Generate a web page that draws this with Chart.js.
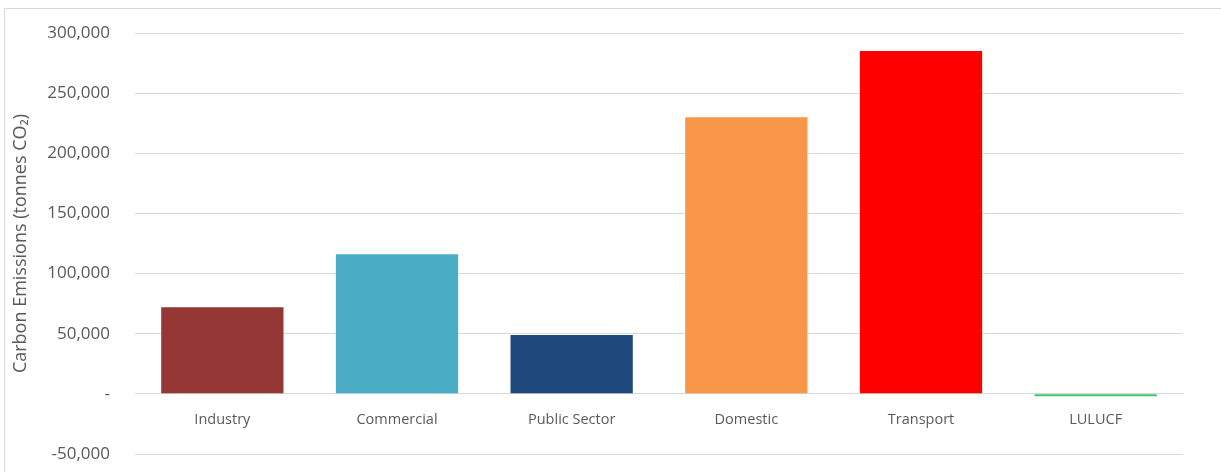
<!DOCTYPE html>
<html>
<head>
<meta charset="utf-8">
<script src="https://cdn.jsdelivr.net/npm/chart.js@4.4.1/dist/chart.umd.min.js"></script>
<style>
  body { margin: 0; background: #fff; overflow: hidden; }
  #frame {
    position: absolute; left: 4px; top: 8px;
    width: 1240px; height: 480px;
    border-left: 1px solid #d9d9d9; border-top: 1px solid #d9d9d9;
  }
  #myChart { position: absolute; left: 0; top: 0; }
</style>
</head>
<body>
<div id="frame">
  <canvas id="myChart" width="1216" height="463"></canvas>
</div>
<script>
// values (tonnes CO2)
const categories = ['Industry', 'Commercial', 'Public Sector', 'Domestic', 'Transport', 'LULUCF'];
const emissions = [72000, 116000, 49000, 230000, 285000, -2000];
const barColors = ['#953735', '#4BACC6', '#1F497D', '#F79646', '#FF0000', '#3CC56E'];

const textColor = '#595959';
const gridColor = '#d9d9d9';
const family = "'Open Sans', sans-serif";

const ctx = document.getElementById('myChart');

const config = {
  type: 'bar',
  data: {
    labels: categories,
    datasets: [{
      data: emissions,
      backgroundColor: barColors,
      borderWidth: 0,
      barPercentage: 0.7,
      categoryPercentage: 1
    }]
  },
  options: {
    responsive: false,
    animation: false,
    layout: { padding: { left: 0, right: 38, top: 24, bottom: 18 } },
    plugins: {
      legend: false,
      tooltip: { enabled: false }
    },
    scales: {
      x: {
        position: { y: 0 },
        afterFit: (scale) => { scale.height = 0; },
        grid: { display: false, drawTicks: false },
        border: { display: true, color: gridColor },
        ticks: { color: textColor, font: { family: family, size: 14.5 }, padding: 17 }
      },
      y: {
        min: -50000,
        max: 300000,
        afterFit: (scale) => {
          scale.width = 130;
          // keep the big tick padding from pushing the plot area in
          scale.paddingTop = 0;
          scale.paddingBottom = 0;
        },
        grid: { color: gridColor, drawTicks: false },
        border: { display: false },
        ticks: {
          stepSize: 50000,
          color: textColor,
          font: { family: family, size: 17 },
          padding: 25,
          callback: (v) => v === 0 ? '-' : v.toLocaleString('en-US')
        },
        title: {
          display: true,
          text: 'Carbon Emissions (tonnes CO\u2082)',
          color: textColor,
          font: { family: family, size: 18 },
          padding: { top: 5, bottom: 0 }
        }
      }
    }
  }
};

let chart = new Chart(ctx, config);
</script>
</body>
</html>
